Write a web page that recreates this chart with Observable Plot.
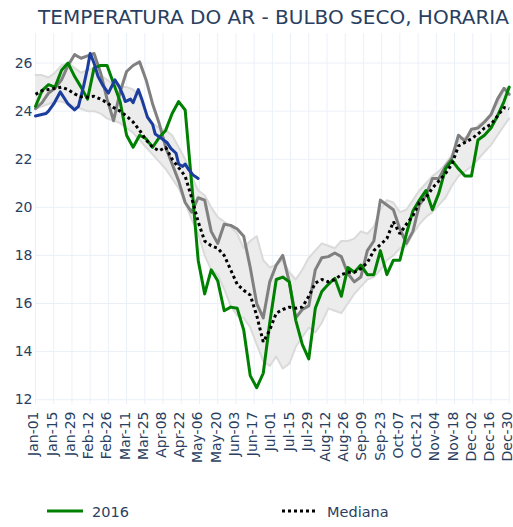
<!DOCTYPE html>
<html>
<head>
<meta charset="utf-8">
<script src="https://cdn.jsdelivr.net/npm/d3@7"></script>
<script src="https://cdn.jsdelivr.net/npm/@observablehq/plot@0.6"></script>
<style>
  body { margin: 0; background: #fff; }
  #wrap { position: relative; width: 513px; height: 527px; font-family: "DejaVu Sans", sans-serif; }
  #chart { position: absolute; left: 0; top: 0; }
  #overlay { position: absolute; left: 0; top: 0; }
</style>
</head>
<body>
<div id="wrap">
  <div id="chart"></div>
  <svg id="overlay" width="513" height="527"></svg>
</div>
<script>
// Day offsets from Jan-01 (leap-year calendar, as in the reference's ticks)
const days = [0,5,10,15,20,25,30,35,40,45,50,55,60,65,70,75,80,85,90,95,100,105,110,115,120,125,130,135,140,145,150,155,160,165,170,175,180,185,190,195,200,205,210,215,220,225,230,235,240,245,250,255,260,265,270,275,280,285,290,295,300,305,310,315,320,325,330,335,340,345,350,355,360,364];

const serie2016 = [24.2,24.85,25.1,25.0,25.7,26.0,25.45,25.0,24.5,25.8,25.9,25.9,25.15,24.4,23.0,22.5,23.0,22.85,22.5,22.9,23.2,23.9,24.4,24.05,21.0,17.8,16.4,17.4,16.95,15.7,15.85,15.8,14.9,13.0,12.5,13.1,15.2,17.0,17.1,16.9,15.3,14.3,13.7,15.8,16.5,16.8,17.05,16.3,17.5,17.3,17.6,17.2,17.2,18.2,17.2,17.8,17.8,18.9,19.85,20.3,20.7,19.9,20.6,21.6,21.95,21.6,21.3,21.3,22.8,23.0,23.3,23.8,24.4,25.0];

const serieCinza = [24.1,24.35,24.75,24.95,25.3,25.9,26.35,26.2,26.3,26.4,25.6,24.5,23.6,24.8,25.65,25.9,26.05,25.3,24.3,23.5,22.5,21.8,21.1,20.2,19.8,20.4,20.3,19.0,18.5,19.3,19.25,19.1,18.8,17.5,16.0,15.4,16.9,17.6,18.0,16.9,15.4,15.75,15.9,17.4,17.9,17.95,18.1,17.95,17.25,16.9,17.1,18.2,18.6,20.3,20.1,19.9,19.1,18.5,19.0,20.1,20.5,21.2,21.2,21.7,22.05,23.0,22.75,23.25,23.3,23.55,23.85,24.5,24.95,24.7];

// Partial series (blue) with its own day offsets
const diasAzul = [0,8,10,14,19,25,30,33,37,40,42,45,48,52,56,61,64,67,69,73,75,79,82,86,90,92,96,101,104,108,110,113,115,118,121,125];
const serieAzul = [23.8,23.9,24.0,24.3,24.8,24.3,24.05,24.2,25.05,25.8,26.4,26.0,25.45,25.05,24.75,25.3,25.05,24.7,24.4,24.5,24.35,24.9,24.45,23.75,23.45,23.05,22.9,22.7,22.45,22.25,21.8,21.7,21.8,21.55,21.35,21.2];

const mediana = [24.7,24.85,24.9,24.95,25.0,24.9,24.72,24.6,24.58,24.62,24.5,24.35,24.15,24.0,23.8,23.55,23.2,22.8,22.5,22.35,22.5,22.0,21.65,21.3,20.4,19.4,18.6,18.4,18.3,18.0,17.4,16.8,16.55,16.35,15.5,14.4,14.9,15.6,15.75,15.85,15.8,15.85,16.3,16.85,17.0,16.9,17.0,17.2,17.3,17.3,17.45,17.7,18.2,18.45,18.7,19.4,18.9,19.3,19.65,20.2,20.4,20.8,21.1,21.4,21.8,22.55,22.7,22.85,23.05,23.3,23.45,23.8,24.15,24.1];

const faixaAlta = [25.5,25.5,25.4,25.6,25.9,26.0,25.8,25.6,25.7,25.8,25.5,25.3,25.1,25.0,25.0,24.9,24.6,23.9,23.5,23.3,23.2,23.0,22.5,22.0,21.3,20.7,20.5,20.0,19.6,19.4,19.2,18.9,18.3,18.6,18.8,17.8,17.5,17.6,17.8,17.3,17.0,17.4,17.9,18.2,18.5,18.4,18.3,18.6,18.6,18.7,19.0,18.9,19.2,19.9,20.3,20.2,19.8,19.9,20.3,20.7,21.0,21.3,21.5,21.8,22.2,22.8,22.9,23.0,23.4,23.6,23.9,24.3,24.9,25.0];

const faixaBaixa = [24.1,24.2,24.3,24.4,24.4,24.3,24.2,24.1,24.0,24.0,23.9,23.7,23.6,23.5,23.3,23.1,22.8,22.5,22.2,21.9,21.6,21.2,20.8,20.2,19.5,18.9,18.0,17.4,17.2,16.6,15.9,15.5,15.4,15.0,14.3,13.6,13.4,13.8,13.3,13.5,14.2,14.6,15.0,14.8,15.2,15.8,15.7,15.6,16.0,16.4,16.7,17.0,17.1,17.4,17.8,18.0,18.3,18.4,18.9,19.3,19.6,19.8,20.1,20.4,20.9,21.3,21.5,21.7,22.0,22.3,22.6,23.0,23.4,23.7];

const tickLabels = ["Jan-01","Jan-15","Jan-29","Feb-12","Feb-26","Mar-11","Mar-25","Apr-08","Apr-22","May-06","May-20","Jun-03","Jun-17","Jul-01","Jul-15","Jul-29","Aug-12","Aug-26","Sep-09","Sep-23","Oct-07","Oct-21","Nov-04","Nov-18","Dec-02","Dec-16","Dec-30"];
const yTicks = [12,14,16,18,20,22,24,26];

const titulo = "TEMPERATURA DO AR - BULBO SECO, HORARIA";
const legenda = [
  {label: "2016", color: "#008000", dash: null},
  {label: "Mediana", color: "#000000", dash: "3,3"}
];

const base = Date.UTC(2016, 0, 1);
const toDate = d => new Date(base + d * 864e5);
const parseTick = d3.utcParse("%Y-%b-%d");
const tickDates = tickLabels.map(s => parseTick("2016-" + s));

const rows = days.map((d, i) => ({
  date: toDate(d),
  g: serie2016[i], c: serieCinza[i], m: mediana[i], hi: faixaAlta[i], lo: faixaBaixa[i]
}));
const blueRows = serieAzul.map((v, i) => ({date: toDate(diasAzul[i]), b: v}));

const chart = Plot.plot({
  width: 513, height: 480,
  marginTop: 33, marginLeft: 35, marginRight: 3, marginBottom: 76,
  style: {fontFamily: "DejaVu Sans, sans-serif", fontSize: "14px", color: "#2a3f5f", background: "transparent", overflow: "visible"},
  x: {type: "utc", domain: [toDate(0), toDate(365)], label: null},
  y: {domain: [11.8, 27.23], label: null},
  marks: [
    Plot.gridX(tickDates, {stroke: "#ebf0f8", strokeOpacity: 1, strokeWidth: 1}),
    Plot.gridY(yTicks, {stroke: "#ebf0f8", strokeOpacity: 1, strokeWidth: 1}),
    Plot.areaY(rows, {x: "date", y1: "lo", y2: "hi", fill: "#ececec", fillOpacity: 1}),
    Plot.lineY(rows, {x: "date", y: "hi", stroke: "#dadada", strokeWidth: 2}),
    Plot.lineY(rows, {x: "date", y: "lo", stroke: "#dadada", strokeWidth: 2}),
    Plot.lineY(rows, {x: "date", y: "c", stroke: "#808080", strokeWidth: 3}),
    Plot.lineY(rows, {x: "date", y: "g", stroke: "#008000", strokeWidth: 3}),
    Plot.lineY(blueRows, {x: "date", y: "b", stroke: "#1a3d9e", strokeWidth: 3}),
    Plot.lineY(rows, {x: "date", y: "m", stroke: "#000000", strokeWidth: 3, strokeDasharray: "3,3", strokeLinejoin: "miter", strokeLinecap: "butt"}),
    Plot.axisX(tickDates, {tickFormat: d3.utcFormat("%b-%d"), tickRotate: -90, tickSize: 0, tickPadding: 7, dx: -1.5, label: null}),
    Plot.axisY(yTicks, {tickSize: 0, tickPadding: 3, label: null})
  ]
});
document.getElementById("chart").appendChild(chart);

// Title and legend
const ov = d3.select("#overlay");
ov.append("text")
  .attr("x", 273.5).attr("y", 24)
  .attr("text-anchor", "middle")
  .attr("font-family", "DejaVu Sans, sans-serif")
  .attr("font-size", 20)
  .attr("fill", "#2a3f5f")
  .text(titulo);

const legX = [47, 282];
legenda.forEach((item, i) => {
  const x0 = legX[i];
  const ln = ov.append("line")
    .attr("x1", x0).attr("x2", x0 + 36)
    .attr("y1", 511).attr("y2", 511)
    .attr("stroke", item.color).attr("stroke-width", 3);
  if (item.dash) ln.attr("stroke-dasharray", item.dash);
  ov.append("text")
    .attr("x", x0 + 45).attr("y", 516.5)
    .attr("font-family", "DejaVu Sans, sans-serif")
    .attr("font-size", 14.5)
    .attr("fill", "#2a3f5f")
    .text(item.label);
});
</script>
</body>
</html>
